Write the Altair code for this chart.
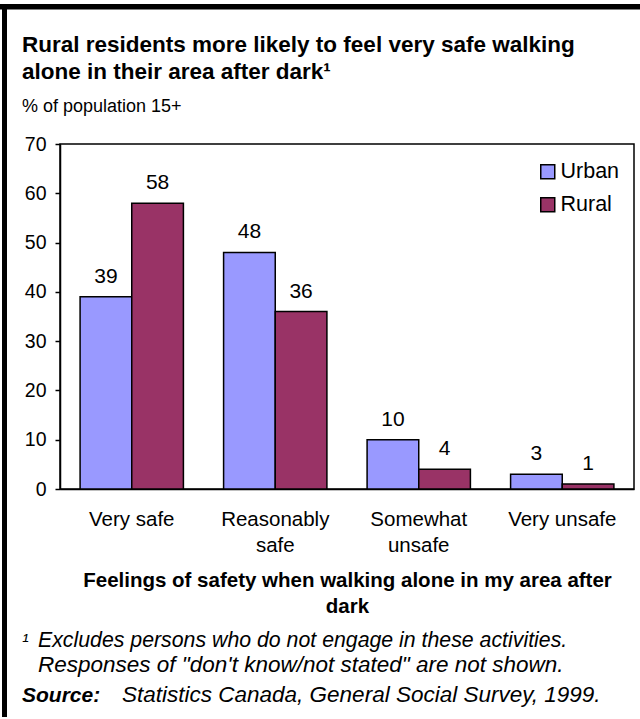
import altair as alt
import pandas as pd

# Survey results: share of population 15+ by feeling of safety
categories = ["Very safe", "Reasonably safe", "Somewhat unsafe", "Very unsafe"]
series = ["Urban", "Rural"]
urban = [39, 48, 10, 3]
rural = [58, 36, 4, 1]
colors = ["#9999FF", "#993366"]
y_ticks = [0, 10, 20, 30, 40, 50, 60, 70]

rows = []
for cat, u, r in zip(categories, urban, rural):
    rows.append({"Feeling": cat, "Area": "Urban", "Percent": u})
    rows.append({"Feeling": cat, "Area": "Rural", "Percent": r})
df = pd.DataFrame(rows)

FONT = "Liberation Sans"
W, H = 574, 345

x_enc = alt.X(
    "Feeling:N",
    sort=categories,
    scale=alt.Scale(paddingInner=0.28, paddingOuter=0.14),
    axis=alt.Axis(
        title=["Feelings of safety when walking alone in my area after", "dark"],
        titleFontSize=20.5,
        titleFontWeight="bold",
        titleLineHeight=26,
        titlePadding=15,
        titleColor="black",
        labelAngle=0,
        labelFontSize=20.5,
        labelColor="black",
        labelLineHeight=26,
        labelPadding=20,
        labelExpr=(
            "datum.label == 'Reasonably safe' ? ['Reasonably', 'safe'] : "
            "datum.label == 'Somewhat unsafe' ? ['Somewhat', 'unsafe'] : datum.label"
        ),
        ticks=False,
        domainColor="black",
        domainWidth=1.5,
    ),
)
xoff_enc = alt.XOffset("Area:N", sort=series, scale=alt.Scale(paddingInner=0, paddingOuter=0))
y_enc = alt.Y(
    "Percent:Q",
    scale=alt.Scale(domain=[0, 70], nice=False),
    axis=alt.Axis(
        title=None,
        values=y_ticks,
        grid=False,
        labelFontSize=19.5,
        labelColor="black",
        labelPadding=9,
        tickSize=5,
        tickColor="black",
        tickWidth=1.5,
        domainColor="black",
        domainWidth=1.5,
    ),
)

bars = alt.Chart(df).mark_bar(stroke="black", strokeWidth=1.5).encode(
    x=x_enc,
    xOffset=xoff_enc,
    y=y_enc,
    color=alt.Color(
        "Area:N",
        sort=series,
        scale=alt.Scale(domain=series, range=colors),
        legend=alt.Legend(
            title=None,
            orient="none",
            legendX=477,
            legendY=17,
            symbolType="square",
            symbolSize=196,
            symbolStrokeColor="black",
            symbolStrokeWidth=1.5,
            labelFontSize=21.5,
            labelColor="black",
            labelOffset=2,
            rowPadding=10,
        ),
    ),
)

values = alt.Chart(df).mark_text(
    baseline="alphabetic", dy=-14, fontSize=21, font=FONT, color="black"
).encode(
    x=alt.X("Feeling:N", sort=categories),
    xOffset=alt.XOffset("Area:N", sort=series),
    y="Percent:Q",
    text="Percent:Q",
)


def note(txt, x, y, size=16, weight="normal", style="normal"):
    return alt.Chart(pd.DataFrame({"t": [txt]})).mark_text(
        align="left", baseline="alphabetic", fontSize=size, fontWeight=weight,
        fontStyle=style, font=FONT, color="black",
    ).encode(x=alt.value(x), y=alt.value(y), text="t:N")


title1 = note("Rural residents more likely to feel very safe walking", -38, -92, 22.5, "bold")
title2 = note("alone in their area after dark\u00b9", -38, -65, 22.5, "bold")
subtitle = note("% of population 15+", -38, -32, 18)
foot0 = note("\u00b9", -38, 503, 20, style="italic")
foot1 = note("Excludes persons who do not engage in these activities.", -22, 503, 21.3, style="italic")
foot2 = note("Responses of \"don't know/not stated\" are not shown.", -22, 528, 22.5, style="italic")
src_lbl = note("Source:", -38, 558, 21, "bold", "italic")
src_txt = note("Statistics Canada, General Social Survey, 1999.", 62, 558, 22.5, style="italic")

# Heavy frame along the top and left edges of the figure
frame_top = alt.Chart(pd.DataFrame({"k": [0]})).mark_rule(color="black", strokeWidth=5.5).encode(
    x=alt.value(-60), x2=alt.value(580), y=alt.value(-137.3)
)
frame_left = alt.Chart(pd.DataFrame({"k": [0]})).mark_rule(color="black", strokeWidth=5).encode(
    x=alt.value(-55.5), y=alt.value(-140), y2=alt.value(573)
)

chart = alt.layer(
    bars, values, title1, title2, subtitle, foot0, foot1, foot2, src_lbl, src_txt,
    frame_top, frame_left,
).properties(
    width=W,
    height=H,
    autosize=alt.AutoSizeParams(type="none"),
    padding={"left": 60, "top": 144, "right": 6, "bottom": 230},
    background="white",
).configure_view(
    stroke="black", strokeWidth=1.5
).configure_axis(
    labelFont=FONT, titleFont=FONT
).configure_legend(
    labelFont=FONT
).configure_text(font=FONT)

chart.save("out.html", embed_options={"renderer": "svg", "actions": False})
